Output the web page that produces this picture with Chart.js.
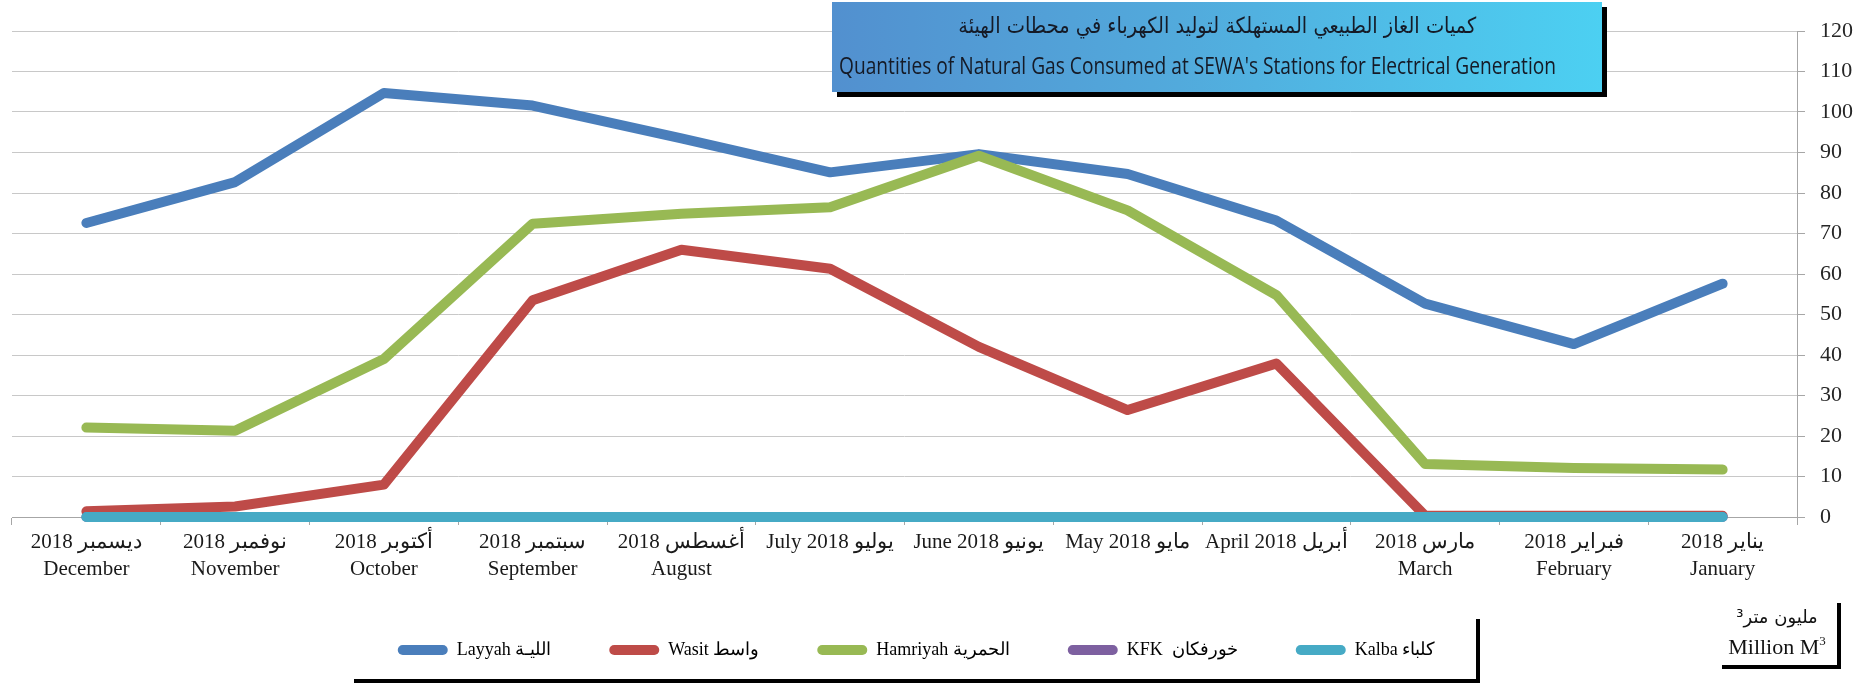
<!DOCTYPE html>
<html>
<head>
<meta charset="utf-8">
<script src="https://cdn.jsdelivr.net/npm/chart.js@4.4.1/dist/chart.umd.min.js"></script>
<style>
  html, body { margin: 0; padding: 0; background: #fff; }
  #wrap { position: relative; width: 1868px; height: 686px; overflow: hidden; }
  #c { position: absolute; left: 0; top: 0; z-index: 2; }
  .sbox { position: absolute; background: #fff; box-shadow: 4px 4px 0 #000; z-index: 1; }
  #title { position: absolute; left: 832px; top: 2px; width: 770px; height: 90px; z-index: 3;
           background: linear-gradient(to right, #5290cf 0%, #52aadc 45%, #4cd0f2 100%);
           box-shadow: 5px 5px 0 #000; }
  #titleAr { position: absolute; left: 0; width: 770px; top: 5px; text-align: center; direction: rtl;
             font-family: "DejaVu Sans", "Noto Sans", sans-serif; font-size: 22px; line-height: 38px; color: #151a26; white-space: nowrap; }
  #titleEn { position: absolute; left: 7px; top: 45px; font-family: "Liberation Sans Narrow", "Open Sans", sans-serif;
             font-size: 23px; line-height: 36px; color: #151a26; white-space: nowrap; transform-origin: 0 50%; display: inline-block; }
  #unit { position: absolute; left: 1710px; top: 602px; width: 134px; z-index: 3; text-align: center;
          font-family: "Liberation Serif", serif; color: #111; }
  #unit div { white-space: nowrap; }
  #unitAr { direction: rtl; font-family: "DejaVu Sans", sans-serif; font-size: 18px; line-height: 30px; }
  #unitEn { font-size: 22px; line-height: 30px; }
  #unitEn sup { font-size: 13px; vertical-align: 9px; line-height: 0; }
</style>
</head>
<body>
<div id="wrap">
  <div class="sbox" style="left:350px; top:615px; width:1126px; height:64px;"></div>
  <div class="sbox" style="left:1718px; top:599px; width:119px; height:66px;"></div>
  <canvas id="c" width="1868" height="686"></canvas>
  <div id="title">
    <div id="titleAr">كميات الغاز الطبيعي المستهلكة لتوليد الكهرباء في محطات الهيئة</div>
    <span id="titleEn">Quantities of Natural Gas Consumed at SEWA's Stations for Electrical Generation</span>
  </div>
  <div id="unit">
    <div id="unitAr">مليون متر³</div>
    <div id="unitEn">Million M<sup>3</sup></div>
  </div>
</div>
<script>
// ---- data (chronological, drawn right-to-left) ----
const monthLabels = [
  ['يناير 2018', 'January'],
  ['فبراير 2018', 'February'],
  ['مارس 2018', 'March'],
  ['April 2018 أبريل'],
  ['May 2018 مايو'],
  ['June 2018 يونيو'],
  ['July 2018 يوليو'],
  ['أغسطس 2018', 'August'],
  ['سبتمبر 2018', 'September'],
  ['أكتوبر 2018', 'October'],
  ['نوفمبر 2018', 'November'],
  ['ديسمبر 2018', 'December']
];
const seriesNames = ['Layyah الليـة', 'Wasit واسط', 'Hamriyah الحمرية', 'KFK  خورفكان', 'Kalba كلباء'];
const layyah   = [57.6, 42.7, 52.7, 73.2, 84.7, 89.6, 85.1, 93.5, 101.6, 104.7, 82.7, 72.6];
const wasit    = [0.3, 0.3, 0.3, 37.9, 26.4, 42.0, 61.3, 66.0, 53.5, 8.0, 2.6, 1.4];
const hamriyah = [11.7, 12.1, 13.1, 54.8, 75.7, 89.2, 76.5, 74.9, 72.4, 39.0, 21.3, 22.1];
const kfk      = [0, 0, 0, 0, 0, 0, 0, 0, 0, 0, 0, 0];
const kalba    = [0, 0, 0, 0, 0, 0, 0, 0, 0, 0, 0, 0];
const yMin = 0, yMax = 120, yStep = 10;

const colors = ['#4a7ebb', '#be4b48', '#98b954', '#7d60a0', '#46aac5'];
const values = [layyah, wasit, hamriyah, kfk, kalba];

// fit title lines to the reference widths
(function fitTitle() {
  const en = document.getElementById('titleEn');
  const w = en.getBoundingClientRect().width;
  en.style.transform = 'scaleX(' + (717 / w) + ')';
  const ar = document.getElementById('titleAr');
  const span = document.createElement('span');
  span.textContent = ar.textContent;
  ar.textContent = '';
  span.style.display = 'inline-block';
  ar.appendChild(span);
  const wa = span.getBoundingClientRect().width;
  span.style.transform = 'scaleX(' + (518 / wa) + ')';
})();

const datasets = values.map((v, i) => ({
  label: seriesNames[i],
  data: v,
  borderColor: colors[i],
  backgroundColor: colors[i],
  borderWidth: 10,
  borderCapStyle: 'round',
  borderJoinStyle: 'round',
  pointRadius: 0,
  pointHoverRadius: 0,
  tension: 0,
  fill: false,
  clip: false,
  order: 5 - i
}));

const serif = '"Liberation Serif", "DejaVu Serif", serif';

const legendShift = {
  id: 'legendShift',
  afterLayout(chart) {
    if (chart.legend) { chart.legend.left += 12; chart.legend.right += 12; }
  }
};

new Chart(document.getElementById('c'), {
  type: 'line',
  data: { labels: monthLabels, datasets },
  plugins: [legendShift],
  options: {
    responsive: false,
    animation: false,
    events: [],
    layout: { padding: { left: 12, right: 0, top: 31, bottom: 17 } },
    scales: {
      x: {
        reverse: true,
        offset: true,
        grid: { offset: true, drawOnChartArea: false, drawTicks: true, tickLength: 8, color: '#a6a6a6', lineWidth: 1 },
        border: { display: true, color: '#a6a6a6', width: 1 },
        ticks: { autoSkip: false, maxRotation: 0, minRotation: 0, padding: 4, color: '#1a1a1a',
                 font: { family: serif, size: 21, lineHeight: 1.3 } },
        afterFit: s => { s.height = 66; }
      },
      y: {
        position: 'right',
        min: yMin, max: yMax,
        grid: { color: '#c8c8c8', lineWidth: 1, tickLength: 8, tickColor: '#a6a6a6',
                tickBorderDash: [], borderDash: [1, 1] },
        border: { display: true, color: '#a6a6a6', width: 1, dash: [] },
        ticks: { stepSize: yStep, padding: 15, color: '#262626', font: { family: serif, size: 22 } },
        afterFit: s => { s.width = 71; }
      }
    },
    plugins: {
      title: { display: false },
      tooltip: { enabled: false },
      legend: {
        display: true,
        position: 'bottom',
        fullSize: false,
        reverse: true,
        labels: {
          boxWidth: 50,
          boxHeight: 10,
          useBorderRadius: true,
          borderRadius: 5,
          padding: 58,
          color: '#000',
          font: { family: serif, size: 18 },
          generateLabels(chart) {
            const items = Chart.defaults.plugins.legend.labels.generateLabels(chart);
            items.forEach(it => { it.fillStyle = it.strokeStyle; it.lineWidth = 0; });
            return items;
          }
        }
      }
    }
  }
});
</script>
</body>
</html>
